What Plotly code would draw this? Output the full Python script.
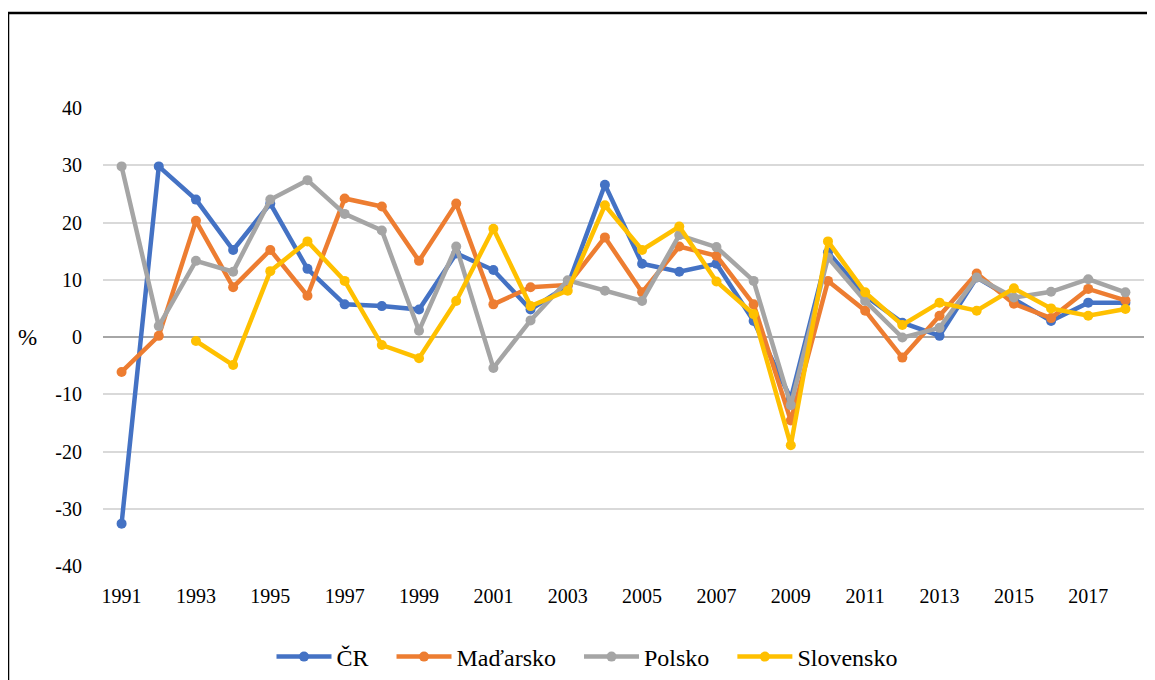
import plotly.graph_objects as go

years = list(range(1991, 2019))

cr = [-32.6, 29.8, 24.0, 15.2, 23.3, 11.9, 5.7, 5.4, 4.8, 14.6, 11.7, 4.8, 9.0, 26.6,
      12.8, 11.4, 12.8, 2.8, -10.8, 14.8, 7.2, 2.5, 0.2, 10.4, 6.6, 2.8, 6.0, 6.0]
hu = [-6.1, 0.2, 20.3, 8.7, 15.2, 7.2, 24.2, 22.8, 13.3, 23.3, 5.7, 8.7, 9.1, 17.4,
      7.8, 15.8, 14.2, 5.7, -14.6, 9.8, 4.6, -3.6, 3.7, 11.1, 5.8, 3.3, 8.4, 6.4]
pl = [29.8, 1.9, 13.3, 11.4, 24.0, 27.4, 21.5, 18.6, 1.1, 15.8, -5.4, 2.9, 9.9, 8.1,
      6.3, 17.8, 15.7, 9.8, -11.9, 13.9, 6.3, -0.1, 1.6, 10.4, 6.9, 7.9, 10.1, 7.8]
sk = [None, None, -0.7, -4.9, 11.5, 16.7, 9.8, -1.4, -3.7, 6.3, 18.9, 5.4, 8.1, 23.0,
      15.2, 19.3, 9.7, 4.0, -18.9, 16.7, 7.8, 2.1, 6.0, 4.6, 8.5, 5.0, 3.7, 4.9]

series_names = ["ČR", "Maďarsko", "Polsko", "Slovensko"]
series_values = [cr, hu, pl, sk]
colors = ["#4472C4", "#ED7D31", "#A5A5A5", "#FFC000"]

x_tickvals = list(range(1991, 2019, 2))
x_ticktext = [str(v) for v in x_tickvals]
y_tickvals = list(range(-40, 41, 10))
y_ticktext = [str(v) for v in y_tickvals]

FONT = "'Liberation Serif', 'Times New Roman', Times, serif"
PAD = "\u00a0\u00a0\u00a0"

fig = go.Figure()
for i, (name, vals, col) in enumerate(zip(series_names, series_values, colors)):
    label = name + (PAD if i < len(series_names) - 1 else "")
    fig.add_trace(go.Scatter(
        x=years, y=vals, name=label, mode="lines+markers",
        line=dict(color=col, width=4.5),
        marker=dict(color=col, size=10),
        connectgaps=False,
    ))

# the page adds an 8px body margin; targets below are screenshot pixels
OFF = 8
W, H = 1155, 680
L, R, T, B = 103 - OFF, 1144 - OFF, 108 - OFF, 566 - OFF
def px(xs):
    return (xs - OFF - L) / (R - L)
def py(ys):
    return (B - (ys - OFF)) / (B - T)

fig.update_layout(
    width=W, height=H,
    margin=dict(l=L, r=W - R, t=T, b=H - B, pad=0, autoexpand=False),
    paper_bgcolor="white", plot_bgcolor="white",
    font=dict(family=FONT, size=19, color="black"),
    showlegend=True,
    legend=dict(
        orientation="h", x=px(587), xanchor="center", y=py(657), yanchor="middle",
        font=dict(family=FONT, size=24, color="black"),
        itemwidth=55, bgcolor="rgba(0,0,0,0)",
    ),
    xaxis=dict(
        range=[1990.5, 2018.5], tickmode="array", tickvals=x_tickvals, ticktext=x_ticktext,
        showgrid=False, zeroline=False, showline=False, ticks="",
        ticklabelstandoff=16, automargin=False,
        tickfont=dict(family=FONT, size=20, color="black"),
    ),
    yaxis=dict(
        range=[-40, 40], tickmode="array", tickvals=y_tickvals, ticktext=y_ticktext,
        showgrid=True, gridcolor="#D9D9D9", gridwidth=1.5,
        zeroline=True, zerolinecolor="#A6A6A6", zerolinewidth=1.5,
        showline=False, ticks="", ticklabelstandoff=20, automargin=False,
        tickfont=dict(family=FONT, size=20, color="black"),
    ),
    annotations=[dict(
        text="%", x=px(27), y=0, xref="paper", yref="y", showarrow=False,
        xanchor="center", yanchor="middle",
        font=dict(family=FONT, size=23, color="black"),
    )],
    shapes=[
        dict(type="line", xref="paper", yref="paper", x0=px(8), x1=px(8),
             y0=py(13), y1=py(700), line=dict(color="black", width=2.5)),
        dict(type="line", xref="paper", yref="paper", x0=px(7), x1=px(1170),
             y0=py(13), y1=py(13), line=dict(color="black", width=2.5)),
    ],
)

fig.write_html("out.html")
